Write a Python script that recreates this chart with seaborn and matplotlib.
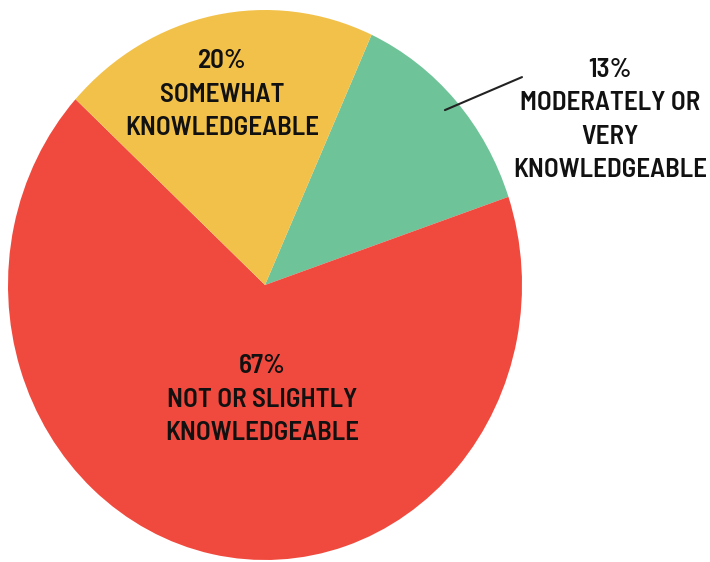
import matplotlib
matplotlib.use("Agg")
import matplotlib.pyplot as plt
import seaborn as sns

# data
labels = ["MODERATELY OR\nVERY\nKNOWLEDGEABLE", "NOT OR SLIGHTLY\nKNOWLEDGEABLE", "SOMEWHAT\nKNOWLEDGEABLE"]
shares = [13, 67, 20]
colors = ["#6FC398", "#F04A3E", "#F2C14A"]

sns.set_theme(style="white")
plt.rcParams["font.family"] = ["Barlow Semi Condensed", "DejaVu Sans"]

fig = plt.figure(figsize=(7.1, 5.62), dpi=100)
ax = fig.add_axes([8 / 710, 2 / 562, 514 / 710, 550 / 562])

wedges, _ = ax.pie(shares, colors=colors, startangle=65.5, counterclock=False,
                   wedgeprops=dict(linewidth=0))
ax.set_aspect("auto")
ax.set_xlim(-1, 1)
ax.set_ylim(-1, 1)
ax.axis("off")

# label positions (axes data units)
pos = [(1.342, 0.60), (-0.012, -0.418), (-0.167, 0.691)]
for lab, val, (x, y) in zip(labels, shares, pos):
    ax.text(x, y, f"{val}%\n{lab}", ha="center", va="center", fontsize=19.5,
            fontweight=600, color="#111111", linespacing=1.5, clip_on=False)

ax.plot([0.70, 1.0], [0.636, 0.756], color="#222222", lw=1.5, clip_on=False)

fig.savefig("out.png", dpi=100)
